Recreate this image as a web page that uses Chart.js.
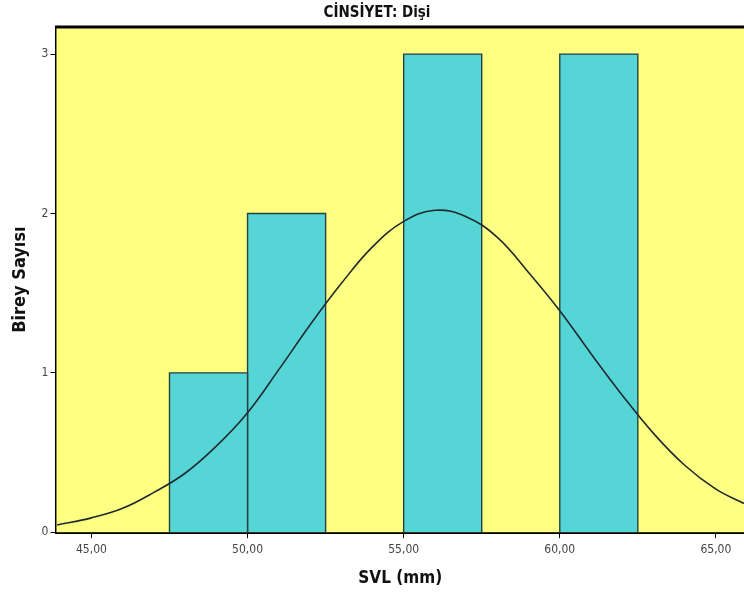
<!DOCTYPE html>
<html>
<head>
<meta charset="utf-8">
<script src="https://cdn.jsdelivr.net/npm/chart.js@4"></script>
<style>
  body { margin: 0; background: #fff; overflow: hidden; }
  #wrap { width: 744px; height: 595px; }
</style>
</head>
<body>
<div id="wrap"><canvas id="myChart" width="744" height="595"></canvas></div>
<script>
// histogram bins (SVL, mm) and counts
const binStart = [47.5, 50, 55, 60];
const binEnd = [50, 52.5, 57.5, 62.5];
const counts = [1, 2, 3, 3];

// normal curve
const curveX = [43.9, 45, 46, 47, 48, 49, 50, 51, 52, 53, 54, 55, 56, 57, 58, 59, 60, 61, 62, 63, 64, 65, 65.9];
const curveY = [0.045, 0.09, 0.15, 0.25, 0.37, 0.54, 0.75, 1.02, 1.30, 1.56, 1.79, 1.95, 2.02, 1.98, 1.85, 1.63, 1.39, 1.12, 0.86, 0.62, 0.42, 0.27, 0.18];

const xTicks = [45, 50, 55, 60, 65];
const yTicks = [0, 1, 2, 3];

const narrow = "'Liberation Sans Narrow', 'DejaVu Sans Condensed', Arial, sans-serif";

const datasets = [];
datasets.push({
    label: 'Normal',
    data: curveX.map((x, i) => ({ x: x, y: curveY[i] })),
    borderColor: '#1f2a30',
    borderWidth: 1.6,
    pointRadius: 0,
    tension: 0.4,
    fill: false,
    order: 0
});
for (let i = 0; i < counts.length; i++) {
    datasets.push({
        label: 'bin' + i,
        data: [
            { x: binStart[i], y: 0 },
            { x: binStart[i], y: counts[i] },
            { x: binEnd[i], y: counts[i] },
            { x: binEnd[i], y: 0 }
        ],
        borderColor: '#25403f',
        borderWidth: 1.4,
        backgroundColor: '#56d5d6',
        pointRadius: 0,
        tension: 0,
        fill: 'origin',
        order: 1
    });
}

const plotBg = {
    id: 'plotBg',
    beforeDatasetsDraw(chart) {
        const a = chart.chartArea;
        const c = chart.ctx;
        c.save();
        c.fillStyle = '#ffff82';
        c.fillRect(a.left, a.top, a.right - a.left, a.bottom - a.top);
        c.restore();
    },
    afterDatasetsDraw(chart) {
        const a = chart.chartArea;
        const c = chart.ctx;
        c.save();
        c.strokeStyle = '#000';
        c.lineWidth = 3;
        c.beginPath();
        c.moveTo(a.left - 1.5, a.top);
        c.lineTo(a.right + 2, a.top);
        c.stroke();
        c.restore();
    }
};

const ctx = document.getElementById('myChart').getContext('2d');
const myChart = new Chart(ctx, {
    type: 'line',
    data: { datasets: datasets },
    plugins: [plotBg],
    options: {
        responsive: false,
        animation: false,
        layout: { padding: { left: 10, right: 0, top: 4, bottom: 6 } },
        plugins: {
            legend: { display: false },
            tooltip: { enabled: false },
            title: {
                display: true,
                text: 'CİNSİYET: Dişi',
                color: '#111',
                font: { family: narrow, size: 15, weight: 'bold' },
                padding: { top: 0, bottom: 5 }
            }
        },
        scales: {
            x: {
                type: 'linear',
                min: 43.88,
                max: 65.9,
                afterBuildTicks: s => { s.ticks = xTicks.map(v => ({ value: v })); },
                ticks: {
                    color: '#444',
                    font: { family: narrow, size: 12 },
                    padding: 4,
                    maxRotation: 0,
                    callback: v => v.toFixed(2).replace('.', ',')
                },
                grid: { drawOnChartArea: false, drawTicks: true, tickLength: 6, color: '#000', lineWidth: 1 },
                border: { display: true, color: '#000', width: 3 },
                title: {
                    display: true,
                    text: 'SVL (mm)',
                    color: '#111',
                    font: { family: narrow, size: 17, weight: 'bold' },
                    padding: { top: 8, bottom: 0 }
                }
            },
            y: {
                min: 0,
                max: 3.17,
                afterBuildTicks: s => { s.ticks = yTicks.map(v => ({ value: v })); },
                ticks: {
                    color: '#444',
                    font: { family: narrow, size: 12 },
                    padding: 2
                },
                grid: { drawOnChartArea: false, drawTicks: true, tickLength: 6, color: '#000', lineWidth: 1 },
                border: { display: true, color: '#000', width: 3 },
                title: {
                    display: true,
                    text: 'Birey Sayısı',
                    color: '#111',
                    font: { family: narrow, size: 18, weight: 'bold' },
                    padding: { top: 0, bottom: 8 }
                }
            }
        }
    }
});
</script>
</body>
</html>
